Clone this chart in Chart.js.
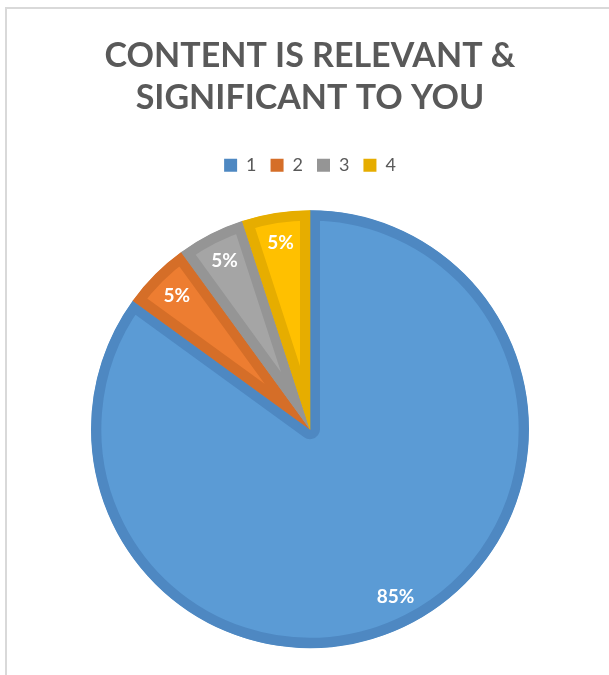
<!DOCTYPE html>
<html>
<head>
<meta charset="utf-8">
<script src="https://cdn.jsdelivr.net/npm/chart.js@4.4.1/dist/chart.umd.min.js"></script>
<style>
    html, body { margin: 0; padding: 0; background: #fff; overflow: hidden; }
    #frame { position: absolute; left: 5px; top: 7px; width: 700px; height: 700px; border: 2px solid #d9d9d9; }
    #wrap { position: absolute; left: 0; top: 0; width: 609px; height: 700px; }
</style>
</head>
<body>
<div id="frame"></div>
<div id="wrap"><canvas id="pie-chart" width="609" height="700"></canvas></div>
<script>
const categories = ['1', '2', '3', '4'];
const shares = [85, 5, 5, 5];
const titleLines = ['CONTENT IS RELEVANT &', 'SIGNIFICANT TO YOU'];

const fillColors = ['#5b9bd5', '#ed7d31', '#a5a5a5', '#ffc000'];
const edgeColors = ['#4e88c2', '#d56e28', '#959595', '#e6ad00'];

// percentage labels inside each slice
const sliceLabels = {
    id: 'sliceLabels',
    afterDatasetsDraw(chart) {
        const ctx = chart.ctx;
        const meta = chart.getDatasetMeta(0);
        const total = shares.reduce((a, b) => a + b, 0);
        ctx.save();
        ctx.fillStyle = '#ffffff';
        ctx.font = 'bold 19px Lato';
        ctx.textAlign = 'center';
        ctx.textBaseline = 'middle';
        meta.data.forEach((arc, i) => {
            const p = arc.getProps(['x', 'y', 'startAngle', 'endAngle', 'outerRadius'], true);
            const mid = (p.startAngle + p.endAngle) / 2;
            const r = p.outerRadius * 0.86;
            const text = Math.round(shares[i] / total * 100) + '%';
            ctx.fillText(text, p.x + Math.cos(mid) * r, p.y + Math.sin(mid) * r);
        });
        ctx.restore();
    }
};

const ctx = document.getElementById('pie-chart').getContext('2d');
new Chart(ctx, {
    type: 'pie',
    data: {
        labels: categories,
        datasets: [{
            data: shares,
            backgroundColor: fillColors,
            borderColor: edgeColors,
            borderWidth: 10,
            borderAlign: 'inner'
        }]
    },
    options: {
        responsive: false,
        animation: false,
        events: [],
        layout: {
            padding: { left: 91, right: 80, top: 0, bottom: 26 }
        },
        plugins: {
            title: {
                display: true,
                text: titleLines,
                color: '#595959',
                font: { family: 'Lato', size: 34, weight: 'bold', lineHeight: 1.24 },
                padding: { top: 35, bottom: 23 }
            },
            legend: {
                position: 'top',
                labels: {
                    color: '#595959',
                    font: { family: 'Lato', size: 18 },
                    boxWidth: 13,
                    boxHeight: 13,
                    padding: 14,
                    generateLabels(chart) {
                        const items = Chart.overrides.doughnut.plugins.legend.labels.generateLabels(chart);
                        items.forEach((item, i) => {
                            item.fillStyle = edgeColors[i];
                            item.strokeStyle = edgeColors[i];
                            item.lineWidth = 0;
                        });
                        return items;
                    }
                }
            },
            tooltip: { enabled: false }
        }
    },
    plugins: [sliceLabels]
});
</script>
</body>
</html>
